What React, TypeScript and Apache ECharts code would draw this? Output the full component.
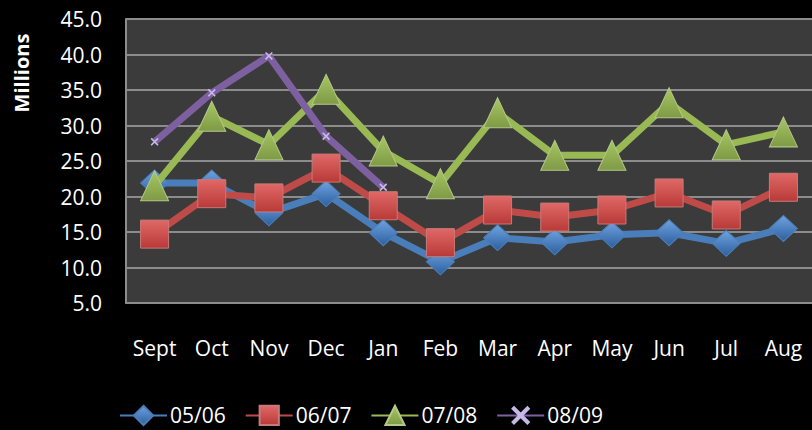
import React, { useEffect, useRef } from "react";
import * as echarts from "echarts";

const months = ["Sept", "Oct", "Nov", "Dec", "Jan", "Feb", "Mar", "Apr", "May", "Jun", "Jul", "Aug"];
const s0506 = [21.9, 21.9, 17.7, 20.4, 14.9, 10.8, 14.2, 13.6, 14.6, 14.9, 13.4, 15.5];
const s0607 = [14.7, 20.4, 19.8, 24.0, 18.7, 13.5, 18.1, 17.1, 18.1, 20.5, 17.4, 21.3];
const s0708 = [21.5, 31.3, 27.3, 35.1, 26.4, 21.8, 31.8, 25.8, 25.8, 33.2, 27.3, 29.1];
const s0809 = [27.7, 34.6, 39.8, 28.5, 21.3];
const yTicks = { min: 5, max: 45, step: 5 };

const FONT = "'Open Sans', 'Liberation Sans', sans-serif";
const X_SYMBOL = "path://M0,1.5 L1.5,0 L10,8.5 L8.5,10 Z M8.5,0 L10,1.5 L1.5,10 L0,8.5 Z";

export default function App() {
  const ref = useRef<HTMLDivElement>(null);
  useEffect(() => {
    document.body.style.margin = "0";
    document.body.style.background = "#000";
    const chart = echarts.init(ref.current!, null, { renderer: "svg" });
    const grad = (light: string, dark: string) =>
      new echarts.graphic.LinearGradient(0, 0, 0, 1, [
        { offset: 0, color: light },
        { offset: 1, color: dark },
      ]);
    chart.setOption({
      animation: false,
      backgroundColor: "#000000",
      textStyle: { fontFamily: FONT },
      grid: { left: 126, right: -2, top: 19, bottom: 127 },
      graphic: [
        {
          type: "text",
          x: 21,
          y: 73,
          rotation: Math.PI / 2,
          style: {
            text: "Millions",
            fill: "#ffffff",
            font: `bold 20px ${FONT}`,
            textAlign: "center",
            textVerticalAlign: "middle",
          },
        },
      ],
      xAxis: {
        type: "category",
        data: months,
        boundaryGap: true,
        axisLine: { show: true, lineStyle: { color: "#8c8c8c", width: 2 } },
        axisTick: { show: false },
        axisLabel: { color: "#ffffff", fontSize: 21, margin: 34, fontFamily: FONT },
        splitLine: { show: false },
      },
      yAxis: {
        type: "value",
        min: yTicks.min,
        max: yTicks.max,
        interval: yTicks.step,
        axisLine: { show: true, lineStyle: { color: "#8c8c8c", width: 2 } },
        axisTick: { show: false },
        axisLabel: {
          color: "#ffffff",
          fontSize: 21,
          margin: 24,
          fontFamily: FONT,
          formatter: (v: number) => v.toFixed(1),
        },
        splitLine: { show: true, lineStyle: { color: "#8c8c8c", width: 2 } },
        splitArea: { show: true, areaStyle: { color: ["#3b3b3b", "#3b3b3b"] } },
      },
      legend: {
        bottom: -1,
        left: 114,
        itemWidth: 47,
        itemHeight: 24,
        itemGap: 19,
        textStyle: { color: "#ffffff", fontSize: 21, fontFamily: FONT, padding: [0, 0, 0, -2] },
        data: ["05/06", "06/07", "07/08", "08/09"],
      },
      series: [
        {
          name: "05/06",
          type: "line",
          data: s0506,
          symbol: "diamond",
          symbolSize: [28, 26],
          lineStyle: { color: "#4a7ebb", width: 7 },
          itemStyle: { color: grad("#6fa3e0", "#2d5f9e"), borderColor: "#4a7ebb", borderWidth: 1 },
          z: 2,
        },
        {
          name: "06/07",
          type: "line",
          data: s0607,
          symbol: "rect",
          symbolSize: 28,
          lineStyle: { color: "#be4b48", width: 7 },
          itemStyle: { color: grad("#e06866", "#b83a38"), borderColor: "#c77a78", borderWidth: 1 },
          z: 3,
        },
        {
          name: "07/08",
          type: "line",
          data: s0708,
          symbol: "triangle",
          symbolSize: [28, 30],
          lineStyle: { color: "#98b954", width: 7 },
          itemStyle: { color: grad("#a7c763", "#7e9a45"), borderColor: "#b3c88a", borderWidth: 1 },
          z: 4,
        },
        {
          name: "08/09",
          type: "line",
          data: s0809,
          symbol: X_SYMBOL,
          symbolSize: 8,
          lineStyle: { color: "#7d60a0", width: 7 },
          itemStyle: { color: "#c8b8e8" },
          z: 5,
        },
      ],
    });
    return () => chart.dispose();
  }, []);
  return <div ref={ref} style={{ width: 812, height: 430 }} />;
}
